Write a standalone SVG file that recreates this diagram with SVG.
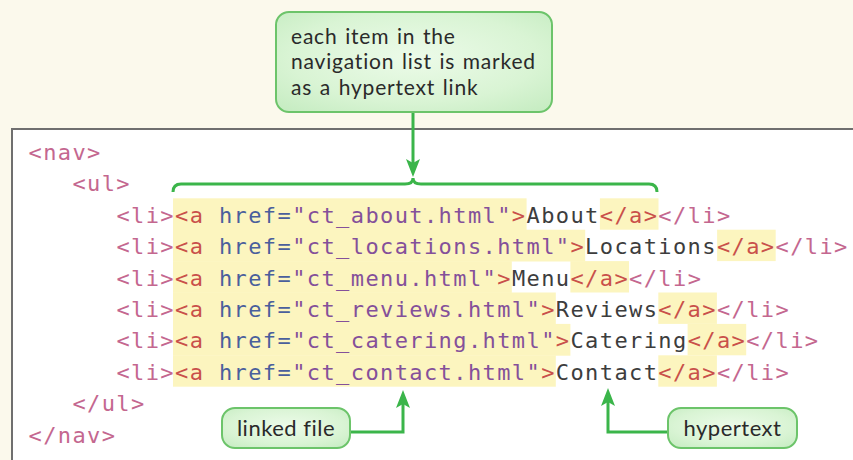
<svg xmlns="http://www.w3.org/2000/svg" width="853" height="460" viewBox="0 0 853 460">
  <defs>
    <radialGradient id="calloutFill" cx="50%" cy="45%" r="75%">
      <stop offset="0" stop-color="#ecfbe9"/>
      <stop offset="0.6" stop-color="#d9f4d4"/>
      <stop offset="1" stop-color="#c3ebbf"/>
    </radialGradient>
    <marker id="arrow" markerWidth="18" markerHeight="14" refX="8" refY="7" orient="auto" markerUnits="userSpaceOnUse" viewBox="0 0 18 14">
      <path d="M0,0 L18,7 L0,14 L4,7 Z" fill="#3bb54a"/>
    </marker>
    <style>
      .callout { fill: url(#calloutFill); stroke: #6cc46a; stroke-width: 2; }
      .label { font-family: Lato, "Open Sans", "Liberation Sans", sans-serif; font-size: 22px; letter-spacing: 0.5px; fill: #2a2a2a; }
      .note { font-size: 21px; letter-spacing: 0.8px; word-spacing: 1.5px; }
      .code { font-family: "DejaVu Sans Mono", "Liberation Mono", monospace; font-size: 22px; letter-spacing: 1.4px; }
      .tg { fill: #c4678f; }
      .a { fill: #c9504a; }
      .at { fill: #4a5f9c; }
      .v { fill: #84509a; }
      .tx { fill: #3d3d3d; }
      .hl { fill: #fcf5bf; }
      .conn { fill: none; stroke: #3bb54a; stroke-width: 3; }
    </style>
  </defs>

  <!-- page background -->
  <rect x="0" y="0" width="853" height="460" fill="#fbf9ec"/>

  <!-- code panel -->
  <rect id="code-panel" x="12" y="129" width="900" height="400" fill="#ffffff" stroke="#6f6f6f" stroke-width="2"/>

  <!-- highlighted <a> markup -->
  <g id="highlights">
    <rect class="hl" x="173" y="198.3" width="353.6" height="31.8"/>
    <rect class="hl" x="599.9" y="198.3" width="58.6" height="31.4"/>
    <rect class="hl" x="173" y="229.7" width="412.2" height="31.8"/>
    <rect class="hl" x="717.1" y="229.7" width="58.6" height="31.4"/>
    <rect class="hl" x="173" y="261.1" width="338.8" height="31.8"/>
    <rect class="hl" x="570.4" y="261.1" width="58.6" height="31.4"/>
    <rect class="hl" x="173" y="292.5" width="382.8" height="31.8"/>
    <rect class="hl" x="658.3" y="292.5" width="58.6" height="31.4"/>
    <rect class="hl" x="173" y="323.9" width="397.4" height="31.8"/>
    <rect class="hl" x="687.6" y="323.9" width="58.6" height="31.4"/>
    <rect class="hl" x="173" y="355.3" width="382.8" height="31.4"/>
    <rect class="hl" x="658.3" y="355.3" width="58.6" height="31.4"/>
  </g>

  <!-- code listing -->
  <g id="code">
    <text class="code" x="28.5" y="160"><tspan class="tg">&lt;nav&gt;</tspan></text>
    <text class="code" x="72.4" y="191.4"><tspan class="tg">&lt;ul&gt;</tspan></text>
    <text class="code" x="116.4" y="222.8"><tspan class="tg">&lt;li&gt;</tspan><tspan class="a">&lt;a</tspan> <tspan class="at">href=</tspan><tspan class="v">"ct_about.html"</tspan><tspan class="a">&gt;</tspan><tspan class="tx">About</tspan><tspan class="a">&lt;/a&gt;</tspan><tspan class="tg">&lt;/li&gt;</tspan></text>
    <text class="code" x="116.4" y="254.2"><tspan class="tg">&lt;li&gt;</tspan><tspan class="a">&lt;a</tspan> <tspan class="at">href=</tspan><tspan class="v">"ct_locations.html"</tspan><tspan class="a">&gt;</tspan><tspan class="tx">Locations</tspan><tspan class="a">&lt;/a&gt;</tspan><tspan class="tg">&lt;/li&gt;</tspan></text>
    <text class="code" x="116.4" y="285.6"><tspan class="tg">&lt;li&gt;</tspan><tspan class="a">&lt;a</tspan> <tspan class="at">href=</tspan><tspan class="v">"ct_menu.html"</tspan><tspan class="a">&gt;</tspan><tspan class="tx">Menu</tspan><tspan class="a">&lt;/a&gt;</tspan><tspan class="tg">&lt;/li&gt;</tspan></text>
    <text class="code" x="116.4" y="317"><tspan class="tg">&lt;li&gt;</tspan><tspan class="a">&lt;a</tspan> <tspan class="at">href=</tspan><tspan class="v">"ct_reviews.html"</tspan><tspan class="a">&gt;</tspan><tspan class="tx">Reviews</tspan><tspan class="a">&lt;/a&gt;</tspan><tspan class="tg">&lt;/li&gt;</tspan></text>
    <text class="code" x="116.4" y="348.4"><tspan class="tg">&lt;li&gt;</tspan><tspan class="a">&lt;a</tspan> <tspan class="at">href=</tspan><tspan class="v">"ct_catering.html"</tspan><tspan class="a">&gt;</tspan><tspan class="tx">Catering</tspan><tspan class="a">&lt;/a&gt;</tspan><tspan class="tg">&lt;/li&gt;</tspan></text>
    <text class="code" x="116.4" y="379.8"><tspan class="tg">&lt;li&gt;</tspan><tspan class="a">&lt;a</tspan> <tspan class="at">href=</tspan><tspan class="v">"ct_contact.html"</tspan><tspan class="a">&gt;</tspan><tspan class="tx">Contact</tspan><tspan class="a">&lt;/a&gt;</tspan><tspan class="tg">&lt;/li&gt;</tspan></text>
    <text class="code" x="72.4" y="411.2"><tspan class="tg">&lt;/ul&gt;</tspan></text>
    <text class="code" x="28.5" y="442.6"><tspan class="tg">&lt;/nav&gt;</tspan></text>
  </g>

  <!-- connectors -->
  <g id="connectors">
    <path class="conn" d="M173,192 Q173,184 181,184 L405,184 Q413,184 413,178 Q413,184 421,184 L649,184 Q657,184 657,192"/>
    <path class="conn" d="M413,112 V167" marker-end="url(#arrow)"/>
    <path class="conn" d="M350,432 H403 V400" marker-end="url(#arrow)"/>
    <path class="conn" d="M668,432 H608 V398" marker-end="url(#arrow)"/>
  </g>

  <!-- callouts -->
  <g id="note-links">
    <rect class="callout" x="276" y="12" width="276" height="100" rx="13"/>
    <text class="label note" x="291" y="43.5">
      <tspan x="291" y="43.5">each item in the</tspan>
      <tspan x="291" y="69">navigation list is marked</tspan>
      <tspan x="291" y="94.5">as a hypertext link</tspan>
    </text>
  </g>
  <g id="note-linked-file">
    <rect class="callout" x="222" y="408" width="128" height="40" rx="13"/>
    <text class="label" x="286" y="436" text-anchor="middle">linked file</text>
  </g>
  <g id="note-hypertext">
    <rect class="callout" x="668" y="408" width="129" height="40" rx="13"/>
    <text class="label" x="732.5" y="436" text-anchor="middle">hypertext</text>
  </g>
</svg>
